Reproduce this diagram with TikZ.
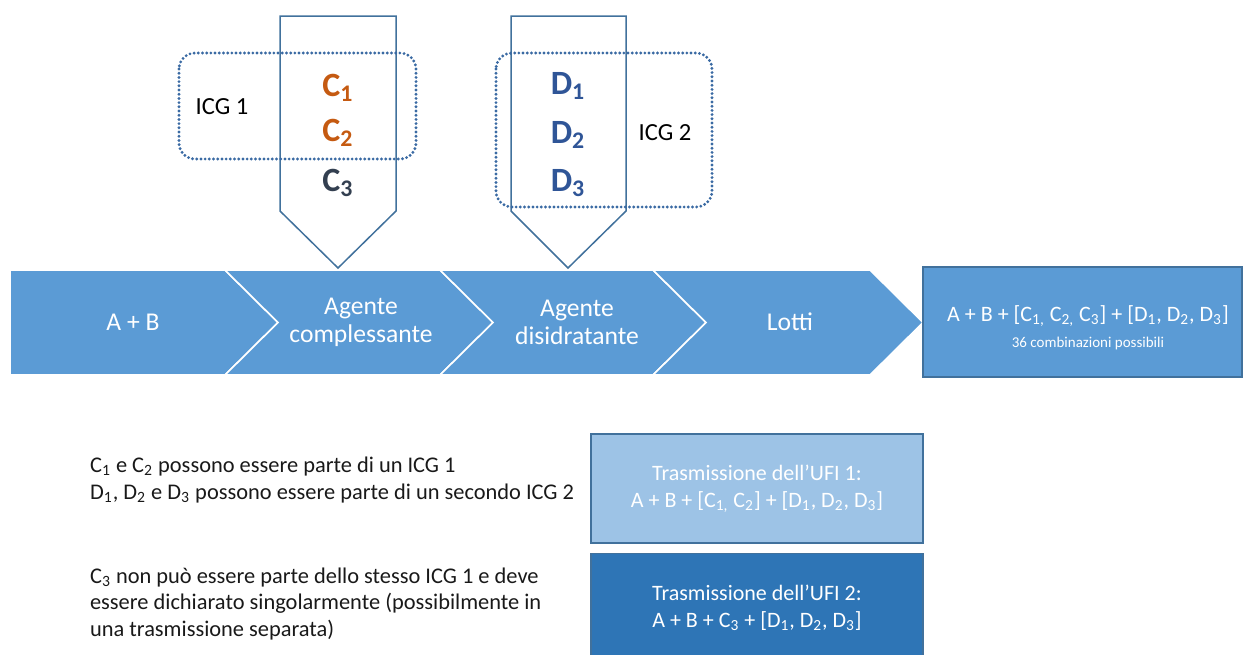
\documentclass[tikz,border=0pt]{standalone}
\usepackage{fontspec}
\setmainfont{Carlito}
\usepackage{xcolor}
\usetikzlibrary{positioning}
\definecolor{chev}{HTML}{5B9BD5}
\definecolor{chevdark}{HTML}{41719C}
\definecolor{ufione}{HTML}{9DC3E6}
\definecolor{ufitwo}{HTML}{2E75B6}
\definecolor{corange}{HTML}{C55A11}
\definecolor{cdark}{HTML}{333F50}
\definecolor{dblue}{HTML}{2F5597}
\definecolor{icgdot}{HTML}{3A6AA3}

\begin{document}
\begin{tikzpicture}[x=0.5pt,y=-0.5pt,
   chevron/.style={fill=chev,draw=white,line width=0.8pt},
   chevtext/.style={text=white,align=center,font=\fontsize{12.8}{14}\selectfont},
   tag/.style={draw=chevdark,line width=0.75pt},
   icgbox/.style={draw=icgdot,line width=1.6pt,line cap=round,dash pattern=on 0pt off 2.1pt,rounded corners=8pt},
   icgtext/.style={font=\fontsize{12.3}{14}\selectfont},
   letter/.style={font=\fontsize{17}{17}\selectfont\bfseries},
   ufibox/.style={draw=chevdark,line width=0.6pt,minimum width=166pt,minimum height=54.5pt,
                  text=white,align=center,font=\fontsize{11}{13.5}\selectfont},
   note/.style={anchor=west,align=left,text=black!90,font=\fontsize{11.2}{13.3}\selectfont}]
   \useasboundingbox (0,0) rectangle (1243,654);

   \path[chevron] (10,270) -- (225,270) -- (278,322.5) -- (225,375) -- (10,375) -- cycle;
   \foreach \l/\r in {225/440,440/653,653/870}
      \path[chevron] (\l,270) -- (\r,270) -- (\r+53,322.5) -- (\r,375) -- (\l,375) -- (\l+53,322.5) -- cycle;

   \node[chevtext] (ab)      at (133,322) {A + B};
   \node[chevtext] (complex) at (361,322) {Agente\\complessante};
   \node[chevtext] (disid)   at (577,322) {Agente\\disidratante};
   \node[chevtext] (lotti)   at (790,322) {Lotti};

   \coordinate (ctip) at (338,268);
   \coordinate (dtip) at (568,268);
   \draw[tag] (ctip) -- (280,211) -- (280,16) -- (396,16) -- (396,211) -- cycle;
   \draw[tag] (dtip) -- (511,211) -- (511,16) -- (626,16) -- (626,211) -- cycle;

   \draw[icgbox] (179,53) rectangle (416,159);
   \draw[icgbox] (496,53) rectangle (712,207);
   \node[icgtext] (icg1) at (222,107) {ICG 1};
   \node[icgtext] (icg2) at (665,133) {ICG 2};

   \node[letter,text=corange] (c1) at (338,88)  {C\textsubscript{1}};
   \node[letter,text=corange] (c2) at (338,133) {C\textsubscript{2}};
   \node[letter,text=cdark]   (c3) at (338,183) {C\textsubscript{3}};
   \node[letter,text=dblue]   (d1) at (568,86)  {D\textsubscript{1}};
   \node[letter,text=dblue]   (d2) at (568,135) {D\textsubscript{2}};
   \node[letter,text=dblue]   (d3) at (568,183) {D\textsubscript{3}};

   \node[fill=chev,draw=chevdark,line width=0.6pt,minimum width=159.5pt,minimum height=55pt] (result) at (1082.5,322) {};
   \node[text=white,font=\fontsize{11}{13}\selectfont] (combo) at (1088,316)
      {A + B + [C\textsubscript{1,} C\textsubscript{2,} C\textsubscript{3}] + [D\textsubscript{1}, D\textsubscript{2}, D\textsubscript{3}]};
   \node[text=white,font=\fontsize{7.5}{9}\selectfont,below=-2pt of combo] (count) {36 combinazioni possibili};

   \node[ufibox,fill=ufione] (ufi1) at (757,488.5)
      {Trasmissione dell’UFI 1:\\A + B + [C\textsubscript{1,} C\textsubscript{2}] + [D\textsubscript{1}, D\textsubscript{2}, D\textsubscript{3}]};
   \node[ufibox,fill=ufitwo] (ufi2) at (757,608)
      {Trasmissione dell’UFI 2:\\A + B + C\textsubscript{3} + [D\textsubscript{1}, D\textsubscript{2}, D\textsubscript{3}]};

   \node[note] (note1) at (83,480)
      {C\textsubscript{1} e C\textsubscript{2} possono essere parte di un ICG 1\\
       D\textsubscript{1}, D\textsubscript{2} e D\textsubscript{3} possono essere parte di un secondo ICG 2};
   \node[note] (note2) at (83,604)
      {C\textsubscript{3} non può essere parte dello stesso ICG 1 e deve\\
       essere dichiarato singolarmente (possibilmente in\\
       una trasmissione separata)};
\end{tikzpicture}
\end{document}
